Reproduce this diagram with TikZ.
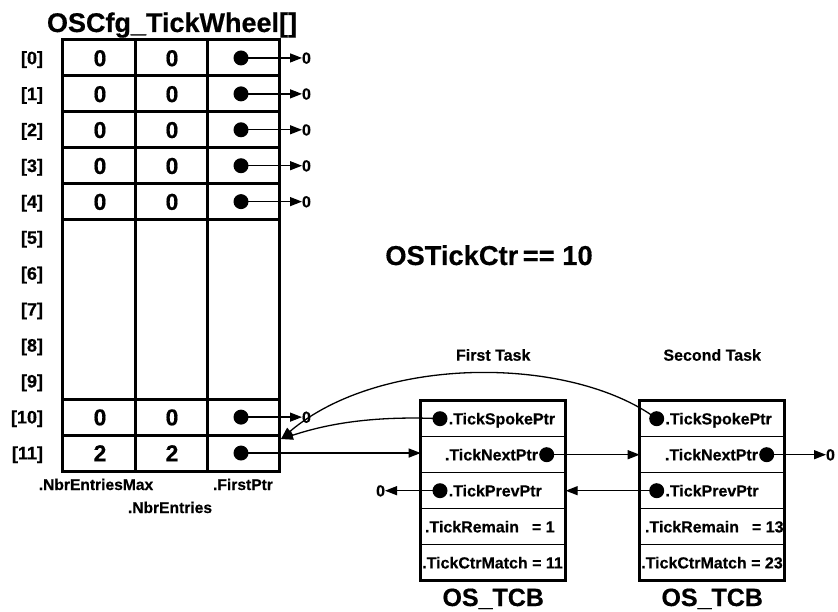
\documentclass[tikz,border=0pt]{standalone}
\usepackage{fontspec}
\setmainfont{Liberation Sans}[BoldFeatures={FakeBold=0.5}]
\usetikzlibrary{arrows.meta}
\newcommand{\fsz}[1]{\fontsize{#1}{#1}\selectfont\bfseries}
\tikzset{
  dotnode/.style={circle,fill=black,inner sep=0pt,minimum size=15pt},
  conn/.style={line width=1.3pt,-{Triangle[length=12pt,width=9pt]}},
  gridline/.style={line width=3pt},
  txt/.style={inner sep=0pt,outer sep=0pt},
  field/.style={draw,line width=1.3pt,minimum width=145pt,minimum height=36pt,inner sep=0pt,outer sep=0pt,anchor=north west},
}
\begin{document}
\begin{tikzpicture}[x=1pt,y=-1pt]
\useasboundingbox (0,0) rectangle (838,612);
% title
\node[txt,anchor=base,font=\fsz{27}] (title) at (172,32) {OSCfg\_TickWheel[]};
% table grid
\def\rh{35.917}
\draw[gridline] (62,40) rectangle (279,471);
\draw[gridline] (135,40) -- (135,471);
\draw[gridline] (207,40) -- (207,471);
\foreach \k in {1,2,3,4,5,10,11}{
  \draw[gridline] (62,{40+\rh*\k}) -- (279,{40+\rh*\k});
}
% row labels
\foreach \k in {0,...,11}{
  \node[txt,anchor=base east,font=\fsz{18}] (r\k) at (43,{40+\rh*(\k+0.5)+6.3}) {[\k]};
}
% cells with values
\foreach \k/\v in {0/0,1/0,2/0,3/0,4/0,10/0,11/2}{
  \pgfmathsetmacro\yc{40+\rh*(\k+0.5)}
  \node[txt,anchor=base,font=\fsz{23}] (a\k) at (100,\yc+8.2) {\v};
  \node[txt,anchor=base,font=\fsz{23}] (b\k) at (172,\yc+8.2) {\v};
  \node[dotnode] (d\k) at (241,\yc) {};
}
\foreach \k in {0,1,2,3,4,10}{
  \pgfmathsetmacro\yc{40+\rh*(\k+0.5)}
  \node[txt,anchor=base west,font=\fsz{16}] (z\k) at (302,\yc+5.7) {0};
  \draw[conn] (d\k.center) -- (d\k.center -| z\k.west);
}
% labels under table
\node[txt,anchor=base,font=\fsz{15.6}] (lmax) at (96,490) {.NbrEntriesMax};
\node[txt,anchor=base,font=\fsz{15.6}] (lfirst) at (243,490) {.FirstPtr};
\node[txt,anchor=base,font=\fsz{15.6}] (lnbr) at (170,513) {.NbrEntries};
% OSTickCtr
\node[txt,anchor=base,font=\fsz{27.3}] (ctr) at (489,265) {OSTickCtr\,== 10};
% TCBs
\foreach \t/\xl/\sx/\nx/\rx/\tn/\rm/\cm in {1/420.7/440/546.7/425/First Task/1/11, 2/639.7/656.7/766.7/645/Second Task/13/23}{
  \foreach \j in {1,...,5}{
    \node[field] (t\t f\j) at (\xl,{400.7+36*(\j-1)}) {};
  }
  \draw[line width=3pt] (t\t f1.north west) rectangle (t\t f5.south east);
  \node[dotnode] (s\t) at (\sx,418.7) {};
  \node[dotnode] (n\t) at (\nx,454.7) {};
  \node[dotnode] (p\t) at (\sx,490.7) {};
  \node[txt,anchor=base west,font=\fsz{16}] (ts\t) at ([xshift=1pt]s\t.east |- 0,424.4) {.TickSpokePtr};
  \node[txt,anchor=base east,font=\fsz{16}] (tn\t) at ([xshift=-1pt]n\t.west |- 0,460.4) {.TickNextPtr};
  \node[txt,anchor=base west,font=\fsz{16}] (tp\t) at ([xshift=1pt]p\t.east |- 0,496.4) {.TickPrevPtr};
  \node[txt,anchor=base west,font=\fsz{16}] (tr\t) at (\rx,532.4) {.TickRemain\hspace{13pt}= \rm};
  \node[txt,anchor=base west,font=\fsz{16}] (tc\t) at ({\xl+1.5},568.4) {.TickCtrMatch = \cm};
  \node[txt,anchor=base,font=\fsz{16}] (task\t) at ({\xl+72.5},360.7) {\tn};
  \node[txt,anchor=base,font=\fsz{25}] (os\t) at ({\xl+72.5},606) {OS\_TCB};
}
% zero ends
\node[txt,anchor=base east,font=\fsz{16}] (zp) at (385,496.4) {0};
\node[txt,anchor=base west,font=\fsz{16}] (zn) at (826,460.4) {0};
% connectors
\draw[conn] (d11.center) -- (d11.center -| t1f2.west);
\draw[conn] (n1.center) -- (n1.center -| t2f2.west);
\draw[conn] (p2.center) -- (p2.center -| t1f3.east);
\draw[conn] (p1.center) -- (p1.center -| zp.east);
\draw[conn] (n2.center) -- (n2.center -| zn.west);
\coordinate (tip) at (281,439);
\draw[conn] (s2.center) .. controls (570,355) and (380,355) .. (tip);
\draw[conn] (s1.center) .. controls (360,415) and (315,428) .. (tip);
\end{tikzpicture}
\end{document}
